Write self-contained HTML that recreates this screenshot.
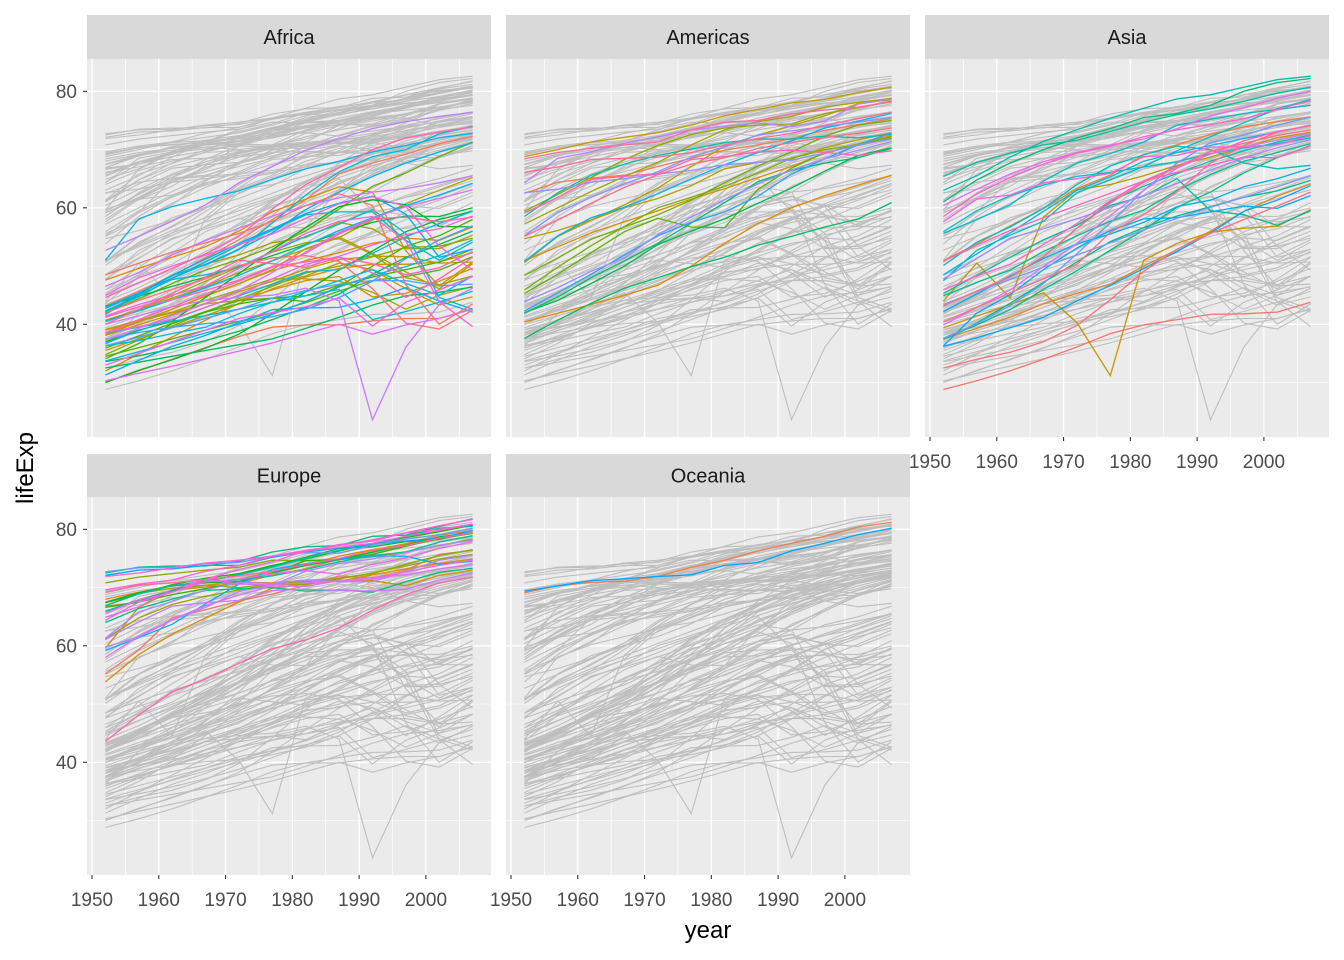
<!DOCTYPE html>
<html><head><meta charset="utf-8">
<style>
html,body{margin:0;padding:0;background:#fff;}
svg{display:block;font-family:"Liberation Sans",sans-serif;}
</style></head>
<body>
<svg id="chart" width="1344" height="960" viewBox="0 0 1344 960" xmlns="http://www.w3.org/2000/svg"></svg>
<script>
const years=[1952,1957,1962,1967,1972,1977,1982,1987,1992,1997,2002,2007];
const yTicks=[40,60,80];
const xTicks=[1950,1960,1970,1980,1990,2000];
const continents=["Africa","Americas","Asia","Europe","Oceania"];
const africa=[
["Algeria",[43.1,45.7,48.3,51.4,54.5,58.0,61.4,65.8,67.7,69.2,71.0,72.3]],
["Angola",[30.0,32.0,34.0,36.0,37.9,39.5,39.9,39.9,40.6,41.0,41.0,42.7]],
["Benin",[38.2,40.4,42.6,44.9,47.0,49.2,50.9,52.3,53.9,54.8,54.4,56.7]],
["Botswana",[47.6,49.6,51.5,53.3,56.0,59.3,61.5,63.6,62.7,52.6,46.6,50.7]],
["Burkina Faso",[32.0,34.9,37.8,40.7,43.6,46.1,48.1,49.6,50.3,50.3,50.7,52.3]],
["Burundi",[39.0,40.5,42.0,43.5,44.1,45.9,47.5,48.2,44.7,45.3,47.4,49.6]],
["Cameroon",[38.5,40.4,42.6,44.8,47.0,49.4,53.0,55.0,52.2,49.0,46.1,50.4]],
["Central African Republic",[35.5,37.5,39.5,41.5,43.5,46.8,48.3,50.5,49.4,46.1,43.3,44.7]],
["Chad",[38.1,39.9,41.7,43.6,45.6,47.4,49.5,51.1,51.7,51.6,50.5,50.7]],
["Comoros",[40.7,42.5,44.5,46.5,48.9,50.9,52.9,54.9,57.9,60.7,63.0,65.2]],
["Congo, Dem. Rep.",[39.1,40.7,42.1,44.1,45.9,47.8,47.8,47.4,45.5,42.6,45.0,46.5]],
["Congo, Rep.",[42.1,45.1,48.4,50.3,51.9,54.0,54.9,57.5,56.4,53.0,53.0,55.3]],
["Cote d'Ivoire",[40.5,42.5,44.9,47.4,49.8,52.4,54.0,54.7,52.0,48.0,46.8,48.3]],
["Djibouti",[34.8,37.3,39.7,42.1,44.4,46.5,48.8,50.0,51.6,53.2,53.4,54.8]],
["Egypt",[41.9,44.4,47.0,49.3,51.1,53.3,56.0,59.8,63.7,66.0,68.8,71.3]],
["Equatorial Guinea",[34.5,36.0,37.5,39.0,40.5,42.0,43.7,45.7,47.5,48.2,49.3,51.6]],
["Eritrea",[35.9,38.0,40.2,42.2,44.1,44.5,43.9,46.5,50.0,53.4,55.2,58.0]],
["Ethiopia",[34.1,36.7,40.1,42.1,43.5,44.5,44.9,46.7,48.1,49.4,50.7,52.9]],
["Gabon",[37.0,39.0,40.5,44.6,48.7,52.8,56.6,60.2,61.4,60.5,56.8,56.7]],
["Gambia",[30.0,32.1,33.9,35.9,38.3,41.8,45.6,49.3,52.6,55.9,58.0,59.4]],
["Ghana",[43.1,44.8,46.5,48.1,49.9,51.8,53.7,55.7,57.5,58.6,58.5,60.0]],
["Guinea",[33.6,34.6,35.8,37.2,38.8,40.8,42.9,45.2,48.6,51.5,53.7,56.0]],
["Guinea-Bissau",[32.5,33.5,34.5,35.5,36.5,37.5,39.3,41.2,43.3,44.9,45.5,46.4]],
["Kenya",[42.3,44.7,47.9,50.7,53.6,56.2,58.8,59.3,59.3,54.4,51.0,54.1]],
["Lesotho",[42.1,45.0,47.7,48.5,49.8,52.5,55.1,57.2,59.7,55.6,44.6,42.6]],
["Liberia",[38.5,39.5,40.5,41.5,42.6,43.8,44.9,46.0,40.8,42.2,43.8,45.7]],
["Libya",[42.7,45.3,48.4,50.2,52.8,57.4,62.2,66.2,68.8,70.0,72.7,74.0]],
["Madagascar",[36.7,38.9,40.8,42.9,44.9,46.9,49.0,49.4,52.2,55.0,57.3,59.4]],
["Malawi",[36.3,37.2,38.4,39.5,41.8,43.8,45.6,47.5,49.4,47.0,45.0,48.3]],
["Mali",[33.7,35.3,36.9,38.5,40.0,41.7,43.9,46.4,48.4,49.9,51.8,54.5]],
["Mauritania",[40.5,42.3,44.2,46.3,48.4,50.9,53.6,56.1,58.3,60.4,62.2,64.2]],
["Mauritius",[51.0,58.1,60.2,61.6,62.9,64.9,66.7,68.0,69.6,70.7,72.0,72.8]],
["Morocco",[42.9,45.4,47.9,50.3,52.9,55.7,59.7,62.7,65.4,67.7,69.6,71.2]],
["Mozambique",[31.3,33.8,36.2,38.1,40.3,42.5,42.8,42.9,44.3,46.3,44.0,42.1]],
["Namibia",[41.7,45.2,48.4,51.2,53.9,56.4,59.0,60.8,62.0,58.9,51.5,52.9]],
["Niger",[37.4,38.6,39.5,40.1,40.5,41.3,42.6,44.6,47.4,51.3,54.5,56.9]],
["Nigeria",[36.3,37.8,39.4,41.0,42.6,44.5,45.8,46.9,47.5,47.5,46.6,46.9]],
["Reunion",[52.7,55.1,57.7,60.5,64.3,67.1,69.9,71.9,73.6,74.8,75.7,76.4]],
["Rwanda",[40.0,41.5,43.0,44.1,44.6,45.0,46.2,44.0,23.6,36.1,43.4,46.2]],
["Sao Tome and Principe",[46.5,48.9,51.9,54.4,56.5,58.6,60.4,61.7,62.7,63.3,64.3,65.5]],
["Senegal",[37.3,39.3,41.5,43.6,45.8,48.9,52.4,55.8,58.2,60.2,61.6,63.1]],
["Sierra Leone",[30.3,31.6,32.8,34.1,35.4,36.8,38.4,40.0,38.3,39.9,41.0,42.6]],
["Somalia",[33.0,35.0,37.0,39.0,41.0,42.0,43.0,44.5,39.7,43.8,45.9,48.2]],
["South Africa",[45.0,48.0,50.0,51.9,53.7,55.5,58.2,60.7,61.9,60.2,53.4,49.3]],
["Sudan",[38.6,39.6,40.9,42.9,45.0,47.8,50.3,51.7,53.6,55.4,56.4,58.6]],
["Swaziland",[41.4,43.4,45.0,46.6,49.6,52.5,55.6,57.7,58.5,54.3,43.9,39.6]],
["Tanzania",[41.2,43.0,44.2,45.8,47.6,49.9,50.7,51.5,50.4,48.5,49.7,52.5]],
["Togo",[38.6,40.8,43.0,45.2,47.4,49.8,52.2,55.5,58.1,58.4,57.6,58.4]],
["Tunisia",[44.6,47.1,49.6,52.1,55.1,59.8,64.0,66.9,70.0,72.0,73.0,73.9]],
["Uganda",[40.0,42.6,45.3,48.1,51.0,50.4,49.8,51.5,48.8,44.6,47.8,51.5]],
["Zambia",[42.0,44.1,46.0,47.8,50.1,51.4,51.8,50.8,46.1,40.2,39.2,42.4]],
["Zimbabwe",[48.5,50.5,52.4,54.0,55.6,57.7,60.4,62.4,60.4,46.8,40.0,43.5]]];
const americas=[
["Argentina",[62.5,64.4,65.1,65.6,67.1,68.5,69.9,70.8,71.9,73.3,74.3,75.3]],
["Bolivia",[40.4,41.9,43.4,45.0,46.7,50.0,53.9,57.3,60.0,62.1,63.9,65.6]],
["Brazil",[50.9,53.3,55.7,57.6,59.5,61.5,63.3,65.2,67.1,69.4,71.0,72.4]],
["Canada",[68.8,70.0,71.3,72.1,72.9,74.2,75.8,76.9,78.0,78.6,79.8,80.7]],
["Chile",[54.7,56.1,57.9,60.5,63.4,67.1,70.6,72.5,74.1,75.8,77.9,78.6]],
["Colombia",[50.6,55.1,57.9,60.0,61.6,63.8,66.7,67.8,68.4,70.3,71.7,72.9]],
["Costa Rica",[57.2,60.0,62.8,65.4,67.8,70.8,73.4,74.8,75.7,77.3,78.1,78.8]],
["Cuba",[59.4,62.3,65.2,68.3,70.7,72.6,73.7,74.2,74.4,76.2,77.2,78.3]],
["Dominican Republic",[45.9,49.8,53.5,56.8,60.0,61.8,63.7,66.0,68.5,70.0,70.8,72.2]],
["Ecuador",[48.4,51.4,54.6,56.7,58.8,61.3,64.3,67.2,69.6,72.3,74.2,75.0]],
["El Salvador",[45.3,48.6,52.3,55.9,58.2,56.7,56.6,63.2,66.8,69.5,70.7,71.9]],
["Guatemala",[42.0,44.1,47.0,50.0,53.7,56.0,58.1,60.8,63.4,66.3,69.0,70.3]],
["Haiti",[37.6,40.7,43.6,46.2,48.0,49.9,51.5,53.6,55.1,56.7,58.1,60.9]],
["Honduras",[41.9,44.7,48.0,50.9,53.9,57.4,60.9,64.5,66.4,67.7,68.6,70.2]],
["Jamaica",[58.5,62.6,65.6,67.5,69.0,70.1,71.2,71.8,71.8,72.3,72.0,72.6]],
["Mexico",[50.8,55.2,58.3,60.1,62.4,65.0,67.4,69.5,71.5,73.7,74.9,76.2]],
["Nicaragua",[42.3,45.4,48.6,51.9,55.2,57.5,59.3,62.0,65.8,68.4,70.8,72.9]],
["Panama",[55.2,59.2,61.8,64.1,66.2,68.7,70.5,72.5,73.2,74.0,74.7,75.5]],
["Paraguay",[62.6,63.2,64.4,65.0,65.8,66.4,67.4,67.8,68.2,69.4,70.8,71.8]],
["Peru",[43.9,46.3,49.1,51.4,55.4,58.4,61.4,64.1,66.5,68.4,69.9,71.4]],
["Puerto Rico",[64.3,68.5,69.6,71.1,72.2,73.4,74.0,74.6,73.9,74.9,77.8,78.7]],
["Trinidad and Tobago",[59.1,61.8,64.9,65.4,65.9,68.3,68.8,69.6,69.9,69.5,69.0,69.8]],
["United States",[68.4,69.5,70.2,70.8,71.3,73.4,74.7,75.0,76.1,76.8,77.3,78.2]],
["Uruguay",[66.1,67.0,68.3,68.5,68.7,69.5,70.8,71.9,72.8,74.2,75.3,76.4]],
["Venezuela",[55.1,57.9,60.8,63.5,65.7,67.5,68.6,70.2,71.2,72.1,72.8,73.7]]];
const asia=[
["Afghanistan",[28.8,30.3,32.0,34.0,36.1,38.4,39.9,40.8,41.7,41.8,42.1,43.8]],
["Bahrain",[50.9,53.8,56.9,59.9,63.3,65.6,69.1,70.8,72.6,73.9,74.8,75.6]],
["Bangladesh",[37.5,39.3,41.2,43.5,45.3,46.9,50.0,52.8,56.0,59.4,62.0,64.1]],
["Cambodia",[39.4,41.4,43.4,45.4,40.3,31.2,51.0,53.9,55.8,56.5,56.8,59.7]],
["China",[44.0,50.5,44.5,58.4,63.1,64.0,65.5,67.3,68.7,70.4,72.0,73.0]],
["Hong Kong, China",[61.0,64.8,67.7,70.0,72.0,73.6,75.5,76.2,77.6,80.0,81.5,82.2]],
["India",[37.4,40.2,43.6,47.2,50.7,54.2,56.6,58.6,60.2,61.8,62.9,64.7]],
["Indonesia",[37.5,39.9,42.5,46.0,49.2,52.7,56.2,60.1,62.7,66.0,68.6,70.7]],
["Iran",[44.9,47.2,49.3,52.5,55.2,57.7,59.6,63.0,65.7,68.0,69.5,71.0]],
["Iraq",[45.3,48.4,51.5,54.5,57.0,60.4,62.0,65.0,59.5,58.8,57.0,59.5]],
["Israel",[65.4,67.8,69.4,70.8,71.6,73.1,74.7,76.0,77.0,78.3,79.7,80.7]],
["Japan",[63.0,65.5,68.7,71.4,73.4,75.4,77.1,78.7,79.4,80.7,82.0,82.6]],
["Jordan",[43.2,45.7,48.1,51.6,56.5,61.1,63.7,65.9,68.0,69.8,71.3,72.5]],
["Korea, Dem. Rep.",[50.1,54.1,56.7,59.9,64.0,67.2,69.1,70.6,70.0,67.7,66.7,67.3]],
["Korea, Rep.",[47.5,52.7,55.3,57.7,62.6,64.8,67.1,69.8,72.2,74.6,77.0,78.6]],
["Kuwait",[55.6,58.0,60.5,64.6,67.7,69.3,71.3,74.2,75.2,76.2,76.9,77.6]],
["Lebanon",[55.9,59.5,62.1,63.9,65.4,66.1,67.0,67.9,69.3,70.3,71.0,72.0]],
["Malaysia",[48.5,52.1,55.7,59.4,63.0,65.3,68.0,69.5,70.7,71.9,73.0,74.2]],
["Mongolia",[42.2,45.2,48.3,51.3,53.8,55.5,57.5,60.2,61.3,63.6,65.0,66.8]],
["Myanmar",[36.3,41.9,45.1,49.4,53.1,56.1,58.1,58.3,59.3,60.3,59.9,62.1]],
["Nepal",[36.2,37.7,39.4,41.2,44.0,46.7,49.6,52.5,55.7,59.4,61.3,63.8]],
["Oman",[37.6,40.1,43.2,47.0,52.1,57.4,63.0,67.7,71.2,72.5,74.2,75.6]],
["Pakistan",[43.4,45.6,47.7,49.8,51.9,54.0,56.2,58.2,60.1,61.8,63.6,65.5]],
["Philippines",[47.8,51.3,54.8,56.4,58.1,60.1,62.1,64.2,66.5,68.6,70.3,71.7]],
["Saudi Arabia",[39.9,42.9,45.9,49.9,53.9,58.7,63.0,66.8,69.3,70.5,71.6,72.8]],
["Singapore",[60.4,63.2,65.8,67.9,69.5,70.8,71.8,73.6,75.8,77.2,78.8,80.0]],
["Sri Lanka",[57.6,61.5,62.2,64.3,65.0,65.9,68.8,69.0,70.4,70.5,70.8,72.4]],
["Syria",[45.9,48.3,50.3,53.7,57.3,61.2,64.6,67.1,69.2,71.5,73.1,74.1]],
["Taiwan",[58.5,62.4,65.2,67.5,69.4,70.6,72.2,73.4,74.3,75.3,76.9,78.4]],
["Thailand",[50.8,53.6,56.1,58.3,60.4,62.5,64.6,66.1,67.3,68.7,68.6,70.6]],
["Vietnam",[40.4,42.9,45.4,47.8,50.3,55.8,58.8,62.8,67.7,70.7,73.0,74.2]],
["West Bank and Gaza",[43.2,45.7,48.1,51.6,56.5,60.8,64.4,67.0,69.7,71.1,72.4,73.4]],
["Yemen, Rep.",[32.5,34.0,35.2,37.0,39.8,44.2,49.1,52.9,55.6,58.0,60.3,62.7]]];
const europe=[
["Albania",[55.2,59.3,64.8,66.2,67.7,68.9,70.4,72.0,71.6,73.0,75.7,76.4]],
["Austria",[66.8,67.5,69.5,70.1,70.6,72.2,73.2,74.9,76.0,77.5,79.0,79.8]],
["Belgium",[68.0,69.2,70.3,70.9,71.4,72.8,73.9,75.4,76.5,77.5,78.3,79.4]],
["Bosnia and Herzegovina",[53.8,58.5,62.0,64.8,67.5,69.9,70.7,71.1,72.2,73.2,74.1,74.9]],
["Bulgaria",[59.6,66.6,69.5,70.4,70.9,70.8,71.3,71.3,71.2,70.3,72.1,73.0]],
["Croatia",[61.2,64.8,67.1,68.5,69.6,70.6,70.5,71.5,72.5,73.7,74.9,75.7]],
["Czech Republic",[66.9,69.0,69.9,70.4,70.0,70.7,71.0,71.6,72.4,74.0,75.5,76.5]],
["Denmark",[70.8,71.8,72.4,73.0,73.5,74.7,74.6,74.8,75.3,76.1,77.2,78.3]],
["Finland",[66.6,67.5,68.8,69.8,70.9,72.5,74.6,74.8,75.7,77.1,78.4,79.3]],
["France",[67.4,68.9,70.5,71.6,72.4,73.8,74.9,76.3,77.5,78.6,79.6,80.7]],
["Germany",[67.5,69.1,70.3,70.8,71.0,72.5,73.8,74.8,76.1,77.3,78.7,79.4]],
["Greece",[65.9,67.9,69.5,71.0,72.3,73.7,75.2,76.7,77.0,77.9,78.3,79.5]],
["Hungary",[64.0,66.4,68.0,69.5,69.8,70.0,69.4,69.6,69.2,71.0,72.6,73.3]],
["Iceland",[72.5,73.5,73.7,73.7,74.5,76.1,77.0,77.2,78.8,79.0,80.5,81.8]],
["Ireland",[66.9,68.9,70.3,71.1,71.3,72.0,73.1,74.4,75.5,76.1,77.8,78.9]],
["Italy",[65.9,67.8,69.2,71.1,72.2,73.5,75.0,76.4,77.4,78.8,80.2,80.5]],
["Montenegro",[59.2,61.4,63.7,67.2,70.6,73.1,74.1,74.9,75.4,75.4,74.0,74.5]],
["Netherlands",[72.1,73.0,73.2,73.8,73.8,75.2,76.1,76.8,77.4,78.0,78.5,79.8]],
["Norway",[72.7,73.4,73.5,74.1,74.3,75.4,76.0,75.9,77.3,78.3,79.1,80.2]],
["Poland",[61.3,65.8,67.6,69.6,70.9,70.7,71.3,71.0,71.0,72.8,74.7,75.6]],
["Portugal",[59.8,61.5,64.4,66.6,69.3,70.4,72.8,74.1,74.9,76.0,77.3,78.1]],
["Romania",[61.1,64.1,66.8,67.4,67.8,69.5,69.7,69.5,69.4,69.7,71.3,72.5]],
["Serbia",[58.0,61.7,64.5,66.9,68.7,70.3,70.2,71.2,71.7,72.2,73.2,74.0]],
["Slovak Republic",[64.4,67.5,69.2,71.4,70.6,70.5,70.8,71.1,71.4,72.7,73.8,74.7]],
["Slovenia",[65.6,67.9,69.2,71.0,71.4,72.4,72.9,72.3,74.0,75.1,76.7,77.9]],
["Spain",[64.9,66.7,69.7,71.4,73.1,74.4,76.3,76.9,77.6,78.8,79.8,80.9]],
["Sweden",[71.9,72.5,73.4,74.2,74.7,75.4,76.4,77.2,78.2,79.4,80.0,80.9]],
["Switzerland",[69.6,70.6,71.3,72.8,73.8,75.4,76.2,77.4,78.0,79.4,80.6,81.7]],
["Turkey",[43.6,48.1,52.1,54.3,57.0,59.5,61.0,63.1,66.1,68.8,70.8,71.8]],
["United Kingdom",[69.2,70.4,70.8,71.4,72.0,72.8,74.0,75.0,76.4,77.2,78.5,79.4]]];
const oceania=[
["Australia",[69.1,70.3,70.9,71.1,71.9,73.5,74.7,76.3,77.6,78.8,80.4,81.2]],
["New Zealand",[69.4,70.3,71.2,71.5,71.9,72.2,73.8,74.3,76.3,77.6,79.1,80.2]]];

const NS="http://www.w3.org/2000/svg";
const svg=document.getElementById("chart");
function mk(tag,attrs,parent){const e=document.createElementNS(NS,tag);for(const k in attrs)e.setAttribute(k,attrs[k]);(parent||svg).appendChild(e);return e;}

// polarLUV -> sRGB (as R's hcl())
function hcl(h,c,l){const r=h*Math.PI/180;const u=c*Math.cos(r),v=c*Math.sin(r);
 const Y=l>8?Math.pow((l+16)/116,3):l/903.3;
 const un=0.1978398,vn=0.4683363;
 const up=u/(13*l)+un,vp=v/(13*l)+vn;
 const X=Y*9*up/(4*vp),Z=Y*(12-3*up-20*vp)/(4*vp);
 let R=3.2406*X-1.5372*Y-0.4986*Z,G=-0.9689*X+1.8758*Y+0.0415*Z,B=0.0557*X-0.2040*Y+1.0570*Z;
 const g=v=>{v=Math.max(0,Math.min(1,v));v=v<=0.0031308?12.92*v:1.055*Math.pow(v,1/2.4)-0.055;return Math.round(v*255);};
 return "rgb("+g(R)+","+g(G)+","+g(B)+")";}

const groups={Africa:africa,Americas:americas,Asia:asia,Europe:europe,Oceania:oceania};
const all=[];continents.forEach(c=>groups[c].forEach(d=>all.push(d)));
const names=all.map(d=>d[0]).slice().sort();
const colorOf={};names.forEach((n,i)=>{colorOf[n]=hcl(15+360*i/names.length,100,65);});

const panels=[
 {name:"Africa",left:87,top:59,stripTop:15,yLab:true,xLab:false},
 {name:"Americas",left:506,top:59,stripTop:15,yLab:false,xLab:false},
 {name:"Asia",left:925,top:59,stripTop:15,yLab:false,xLab:true},
 {name:"Europe",left:87,top:497,stripTop:454,yLab:true,xLab:true},
 {name:"Oceania",left:506,top:497,stripTop:454,yLab:false,xLab:true}];
const W=404,H=378;
const xMin=1949.25,xMax=2009.75,yMin=20.65,yMax=85.55;

panels.forEach(p=>{
 const slug=p.name.toLowerCase();
 const g=mk("g",{});
 
 
 const X=v=>p.left+(v-xMin)/(xMax-xMin)*W;
 const Y=v=>p.top+(yMax-v)/(yMax-yMin)*H;
 const bg=mk("rect",{x:p.left,y:p.top,width:W,height:H,fill:"#EBEBEB"},g);
 
 
 for(let v=30;v<=80;v+=20){mk("line",{x1:p.left,x2:p.left+W,y1:Y(v),y2:Y(v),stroke:"#fff","stroke-width":0.7},g);}
 for(let v=1955;v<=2005;v+=10){mk("line",{y1:p.top,y2:p.top+H,x1:X(v),x2:X(v),stroke:"#fff","stroke-width":0.7},g);}
 yTicks.forEach(v=>mk("line",{x1:p.left,x2:p.left+W,y1:Y(v),y2:Y(v),stroke:"#fff","stroke-width":1.4},g));
 xTicks.forEach(v=>mk("line",{y1:p.top,y2:p.top+H,x1:X(v),x2:X(v),stroke:"#fff","stroke-width":1.4},g));
 const pts=d=>d[1].map((v,i)=>X(years[i]).toFixed(1)+","+Y(v).toFixed(1)).join(" ");
 all.forEach(d=>{const l=mk("polyline",{points:pts(d),fill:"none",stroke:"#BEBEBE","stroke-width":1.1},g);
  
  });
 groups[p.name].forEach(d=>{const l=mk("polyline",{points:pts(d),fill:"none",stroke:colorOf[d[0]],"stroke-width":1.3},g);
  
  });
 const st=mk("rect",{x:p.left,y:p.stripTop,width:W,height:p.top-p.stripTop,fill:"#D9D9D9"},g);
 
 
 const stt=mk("text",{x:p.left+W/2,y:(p.stripTop+p.top)/2+7,"text-anchor":"middle","font-size":"20","fill":"#1A1A1A"},g);
 stt.textContent=p.name;
 
 
 if(p.yLab){yTicks.forEach(v=>{mk("line",{x1:p.left-4,x2:p.left,y1:Y(v),y2:Y(v),stroke:"#333","stroke-width":1.1},g);
  const t=mk("text",{x:p.left-10,y:Y(v)+6.5,"text-anchor":"end","font-size":"19",fill:"#4D4D4D"},g);t.textContent=v;
  
  });}
 if(p.xLab){xTicks.forEach(v=>{mk("line",{x1:X(v),x2:X(v),y1:p.top+H,y2:p.top+H+4,stroke:"#333","stroke-width":1.1},g);
  const t=mk("text",{x:X(v),y:p.top+H+31,"text-anchor":"middle","font-size":"19",fill:"#4D4D4D"},g);t.textContent=v;
  
  });}
});
const xt=mk("text",{x:708,y:938,"text-anchor":"middle","font-size":"24",fill:"#000"});
xt.textContent="year";


const yt=mk("text",{x:0,y:0,"text-anchor":"middle","font-size":"24",fill:"#000",transform:"translate(33,468) rotate(-90)"});
yt.textContent="lifeExp";


</script>
</body></html>
